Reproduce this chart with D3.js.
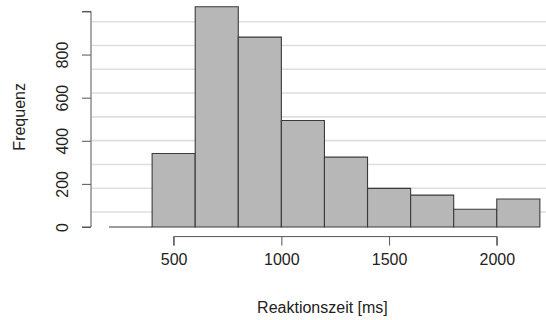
<!DOCTYPE html>
<html><head><meta charset="utf-8">
<script src="https://cdn.jsdelivr.net/npm/d3@7"></script>
<style>body{margin:0;background:#fff;} svg{display:block;}</style>
</head><body>
<svg id="chart" width="546" height="320"></svg>
<script>
const binStarts = [200, 400, 600, 800, 1000, 1200, 1400, 1600, 1800, 2000];
const binWidth = 200;
const counts = [0, 341, 1022, 881, 494, 324, 179, 148, 82, 130];
const xTicks = [500, 1000, 1500, 2000];
const yTicks = [0, 200, 400, 600, 800, 1000];
const yTickLabels = ["0", "200", "400", "600", "800", ""];
const xLabel = "Reaktionszeit [ms]";
const yLabel = "Frequenz";

const svg = d3.select("#chart");
const font = "'Liberation Sans', Arial, sans-serif";
const fs = 16;

const xmin = 200, xmax = 2200, ymax = d3.max(counts);
const xpad = (xmax - xmin) * 0.04, ypad = ymax * 0.04;
const plot = {left: 91.8, right: 557.1, top: -2.1, bottom: 235.8};

const x = d3.scaleLinear().domain([xmin - xpad, xmax + xpad]).range([plot.left, plot.right]);
const y = d3.scaleLinear().domain([-ypad, ymax + ypad]).range([plot.bottom, plot.top]);

// grid lines (10 equal cells over plot region)
const yd = y.domain();
const gridVals = d3.range(1, 10).map(k => yd[0] + k * (yd[1] - yd[0]) / 10);
svg.append("g").selectAll("line").data(gridVals).join("line")
  .attr("x1", plot.left).attr("x2", plot.right)
  .attr("y1", d => y(d)).attr("y2", d => y(d))
  .attr("stroke", "#dedede").attr("stroke-width", 1.6);

// bars (drawn as closed paths so zero-height bins still show their outline)
svg.append("g").selectAll("path").data(binStarts.map((s, i) => ({s, c: counts[i]}))).join("path")
  .attr("d", d => {
    const x0 = x(d.s), x1 = x(d.s + binWidth), y0 = y(0), y1 = y(d.c);
    return `M${x0},${y0}V${y1}H${x1}V${y0}Z`;
  })
  .attr("fill", "#b7b7b7").attr("stroke", "#3a3a3a").attr("stroke-width", 1.1);

// x axis
const xAxis = d3.axisBottom(x).tickValues(xTicks).tickSize(9).tickPadding(8).tickFormat(d3.format("d"));
const gx = svg.append("g").attr("transform", `translate(0,${plot.bottom + 0.8})`).call(xAxis);
gx.select(".domain").attr("d", `M${x(xTicks[0])},9V0H${x(xTicks[xTicks.length-1])}V9`).attr("stroke", "#555");
gx.selectAll(".tick line").attr("stroke", "#555");
gx.selectAll("text").attr("font-family", font).attr("font-size", fs).attr("fill", "#222");

// y axis
const yAxis = d3.axisLeft(y).tickValues(yTicks).tickSize(9).tickFormat((d, i) => yTickLabels[i]);
const gy = svg.append("g").attr("transform", `translate(${plot.left - 0.8},0)`).call(yAxis);
gy.select(".domain").attr("d", `M-9,${y(yTicks[0])}H0V${y(yTicks[yTicks.length-1])}H-9`).attr("stroke", "#555");
gy.selectAll(".tick line").attr("stroke", "#555");
gy.selectAll("text")
  .attr("font-family", font).attr("font-size", fs).attr("fill", "#222")
  .attr("x", null).attr("dy", null)
  .attr("text-anchor", "middle")
  .attr("transform", "translate(-23.5,0) rotate(-90)");

// axis titles
svg.append("text").attr("x", (plot.left + plot.right) / 2 - 2).attr("y", 313.3)
  .attr("text-anchor", "middle").attr("font-family", font).attr("font-size", fs).attr("fill", "#222")
  .text(xLabel);
svg.append("text").attr("transform", `translate(25,${(plot.top + plot.bottom) / 2}) rotate(-90)`)
  .attr("text-anchor", "middle").attr("font-family", font).attr("font-size", fs).attr("fill", "#222")
  .text(yLabel);
</script>
</body></html>
